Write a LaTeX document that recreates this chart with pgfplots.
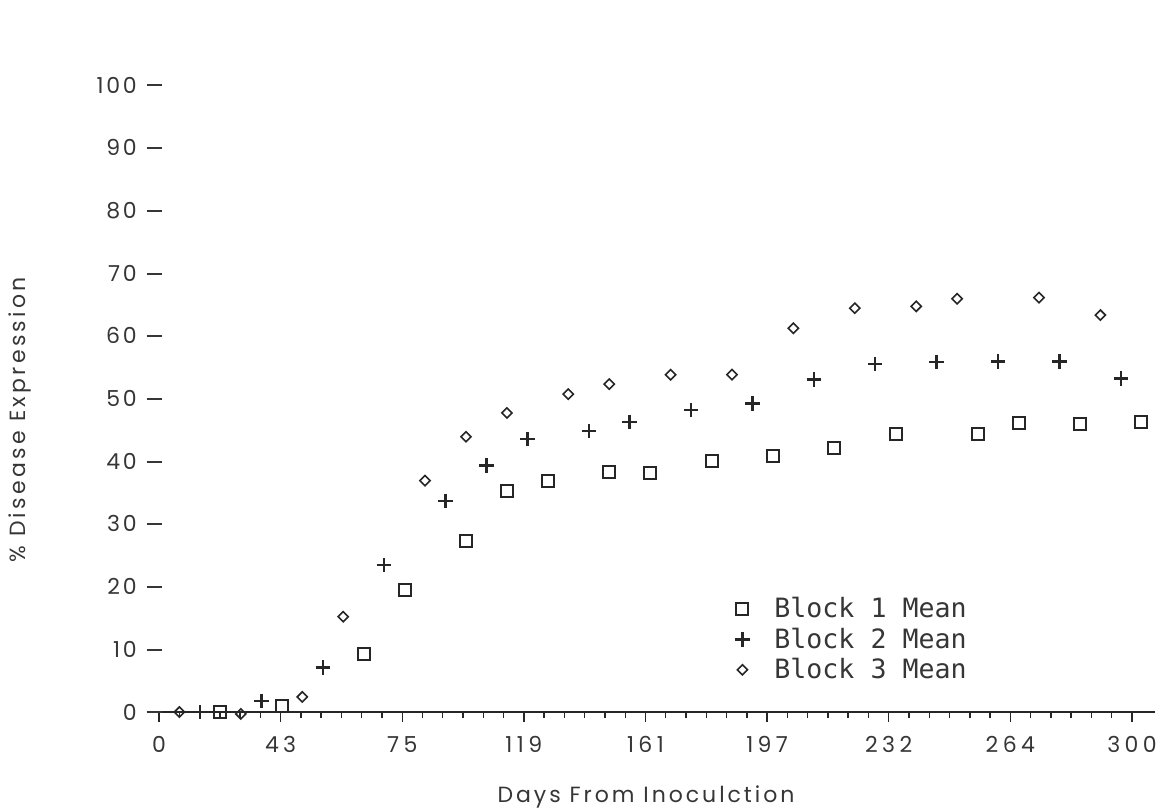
\documentclass[border=0pt]{standalone}
\usepackage{fontspec}
\setmainfont{Poppins}
\newfontfamily\monofont{DejaVu Sans Mono}
\usepackage{pgfplots}
\pgfplotsset{compat=1.18}
\definecolor{ink}{HTML}{262626}
\definecolor{txt}{HTML}{363636}

\begin{document}
\begin{tikzpicture}[x=1pt,y=1pt]
\path[use as bounding box] (-73.5,-49) rectangle (507,356);
\begin{axis}[
  at={(0,0)}, anchor=south west,
  scale only axis, width=504pt, height=313.5pt,
  xmin=-3.7, xmax=307.1, ymin=0, ymax=100,
  clip=false,
  /pgf/number format/assume math mode=true,
  axis x line*=bottom, axis y line*=left,
  y axis line style={draw=none},
  x axis line style={ink, line width=1.1pt},
  xtick={0,37.5,75,112.5,150,187.5,225,262.5,300},
  xticklabels={0,43,75,119,161,197,232,264,300},
  minor x tick num=5,
  tick align=outside,
  major tick length=5pt, minor tick length=3pt,
  xtick style={ink, line width=0.7pt},
  minor x tick style={ink, line width=0.7pt},
  ytick={0,10,...,100},
  ytick style={draw=none},
  yticklabel={\pgfmathprintnumber{\tick}\hspace{5pt}\rule[3.3pt]{7.5pt}{1pt}},
  yticklabel style={anchor=east, inner sep=0pt, xshift=12.5pt, text=txt, font=\fontsize{11}{13}\selectfont\addfontfeatures{LetterSpace=12}},
  xticklabel style={anchor=north, inner sep=0pt, yshift=-7pt, text=txt, font=\fontsize{11}{13}\selectfont\addfontfeatures{LetterSpace=20}},
  legend style={at={(0.5804,0.1885)}, anchor=north west, draw=none, fill=none,
    font=\monofont\fontsize{13.3}{15}\selectfont, text=txt, row sep=0.55pt,
    inner sep=0pt, nodes={inner sep=1.5pt}},
  legend cell align=left,
  legend image code/.code={\path[draw=none,fill=none] (0pt,-3pt) rectangle (19.5pt,3pt); \draw[#1] plot coordinates {(5pt,0pt)};},
]
\addplot[only marks, mark=square, mark size=3pt, ink, line width=1pt] coordinates {
(18.93,0) (37.86,1) (63.1,9.3) (75.72,19.5) (94.65,27.3) (107.27,35.3) (119.89,36.9)
(138.82,38.2) (151.44,38.1) (170.37,40.1) (189.3,40.8) (208.23,42.1) (227.16,44.3)
(252.4,44.4) (265.02,46.1) (283.95,46.0) (302.88,46.3)};
\addlegendentry{Block 1 Mean}
\addplot[only marks, mark=+, mark size=3.6pt, ink, line width=1.2pt] coordinates {
(12.62,0) (31.55,1.8) (50.48,7.1) (69.41,23.4) (88.34,33.7) (100.96,39.3) (113.58,43.5)
(132.51,44.8) (145.13,46.3) (164.06,48.2) (182.99,49.2) (201.92,53) (220.85,55.5)
(239.78,55.8) (258.71,55.9) (277.64,55.9) (296.57,53.2)};
\addlegendentry{Block 2 Mean}
\addplot[only marks, mark=square, mark size=1.8pt, mark options={rotate=45}, ink, line width=0.8pt] coordinates {
(6.31,0) (25.24,-0.3) (44.17,2.4) (56.79,15.2) (82.03,36.9) (94.65,43.9) (107.27,47.7)
(126.2,50.7) (138.82,52.3) (157.75,53.8) (176.68,53.8) (195.61,61.2) (214.54,64.4)
(233.47,64.7) (246.09,65.9) (271.33,66.1) (290.26,63.3)};
\addlegendentry{Block 3 Mean}
\end{axis}
\node[rotate=90, text=txt, font=\fontsize{11}{13}\selectfont\addfontfeatures{LetterSpace=15}] at (-63.5,146) {\% Disease Expression};
\node[text=txt, font=\fontsize{11}{13}\selectfont\addfontfeatures{LetterSpace=13.5}] at (249.5,-42.5) {Days From Inoculction};
\end{tikzpicture}
\end{document}
